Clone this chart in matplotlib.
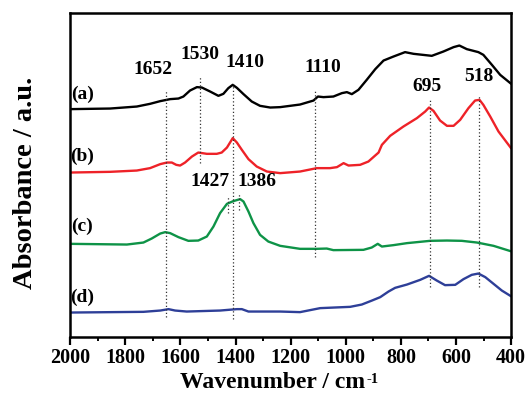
import matplotlib
matplotlib.use("Agg")
import matplotlib.pyplot as plt
from matplotlib.ticker import MultipleLocator, NullLocator

plt.rcParams['font.family'] = ['Liberation Serif', 'DejaVu Serif']
plt.rcParams['font.weight'] = 'bold'

# FTIR spectra, stacked (absorbance, arbitrary units)
wn_a = [2000, 1855, 1758, 1710, 1673, 1637, 1607, 1589, 1565, 1540, 1522, 1492, 1462,
        1444, 1426, 1410, 1395, 1371, 1341, 1311, 1274, 1238, 1166, 1117, 1101, 1081,
        1045, 1014, 996, 978, 954, 924, 893, 863, 827, 785, 754, 688, 646, 609, 588,
        561, 519, 501, 470, 440, 400]
abs_a = [2.277, 2.283, 2.303, 2.330, 2.357, 2.377, 2.383, 2.403, 2.463, 2.497, 2.493, 2.453, 2.410,
         2.430, 2.487, 2.520, 2.490, 2.427, 2.353, 2.310, 2.293, 2.297, 2.323, 2.363, 2.403, 2.397,
         2.403, 2.437, 2.447, 2.427, 2.470, 2.570, 2.677, 2.763, 2.803, 2.847, 2.830, 2.810, 2.853, 2.897, 2.913,
         2.877, 2.847, 2.820, 2.720, 2.620, 2.530]

wn_b = [2000, 1855, 1758, 1710, 1673, 1649, 1631, 1615, 1601, 1583, 1558, 1535, 1504,
        1468, 1450, 1431, 1410, 1395, 1377, 1353, 1323, 1286, 1238, 1166, 1105, 1057,
        1032, 1008, 990, 948, 918, 881, 869, 839, 791, 742, 712, 698, 682, 658, 633,
        609, 585, 555, 531, 515, 501, 476, 446, 400]
abs_b = [1.643, 1.650, 1.663, 1.687, 1.727, 1.743, 1.743, 1.720, 1.713, 1.743, 1.803, 1.843, 1.830,
         1.830, 1.843, 1.893, 1.987, 1.943, 1.870, 1.777, 1.703, 1.653, 1.637, 1.653, 1.687, 1.687,
         1.697, 1.737, 1.713, 1.720, 1.753, 1.843, 1.920, 2.010, 2.103, 2.187, 2.253, 2.293, 2.260, 2.163, 2.110,
         2.110, 2.170, 2.287, 2.363, 2.370, 2.320, 2.203, 2.053, 1.885]

wn_c = [2000, 1794, 1734, 1704, 1673, 1655, 1637, 1607, 1571, 1535, 1504, 1480, 1456,
        1431, 1408, 1383, 1371, 1353, 1335, 1311, 1281, 1238, 1166, 1105, 1069, 1045,
        936, 906, 884, 869, 827, 778, 694, 633, 579, 524, 464, 400]
abs_c = [0.930, 0.923, 0.943, 0.983, 1.033, 1.047, 1.037, 0.997, 0.960, 0.963, 1.003, 1.103, 1.237,
         1.330, 1.357, 1.377, 1.353, 1.253, 1.137, 1.020, 0.953, 0.910, 0.880, 0.880, 0.883, 0.867,
         0.870, 0.893, 0.930, 0.903, 0.917, 0.937, 0.960, 0.963, 0.960, 0.943, 0.910, 0.855]

wn_d = [2000, 1734, 1673, 1643, 1619, 1577, 1456, 1395, 1377, 1353, 1238, 1166, 1093,
        984, 942, 905, 875, 845, 821, 778, 730, 698, 670, 640, 603, 573, 543, 519,
        494, 464, 434, 400]
abs_d = [0.243, 0.250, 0.263, 0.277, 0.263, 0.253, 0.263, 0.277, 0.277, 0.253, 0.253, 0.247, 0.287,
         0.300, 0.323, 0.363, 0.397, 0.453, 0.490, 0.523, 0.570, 0.610, 0.563, 0.517, 0.520, 0.577, 0.620, 0.633,
         0.597, 0.530, 0.463, 0.405]

series = [
    ("(a)", wn_a, abs_a, "#000000", 2.42),
    ("(b)", wn_b, abs_b, "#ee2228", 1.80),
    ("(c)", wn_c, abs_c, "#0e9347", 1.10),
    ("(d)", wn_d, abs_d, "#2e3f98", 0.39),
]

# Assigned bands: wavenumber, guide line extent, label position
band_pos = [1652, 1530, 1410, 1427, 1386, 1110, 695, 518]
band_lo = [0.20, 1.74, 0.18, 1.24, 1.27, 0.80, 0.50, 0.50]
band_hi = [2.47, 2.60, 2.53, 1.41, 1.44, 2.48, 2.37, 2.42]
band_lx = [1699, 1528, 1365, 1492, 1323, 1082, 705, 516]
band_ly = [2.67, 2.82, 2.74, 1.55, 1.55, 2.69, 2.50, 2.60]

fig = plt.figure(figsize=(5.27, 4.01), dpi=100)
ax = fig.add_axes([0.133, 0.160, 0.837, 0.808])

for name, wn, ab, col, ly in series:
    ax.plot(wn, ab, color=col, lw=1.7, solid_joinstyle='round', solid_capstyle='round')
    ax.text(1956, ly, name, ha='center', va='center', fontsize=14, fontweight='bold')

for pos, lo, hi, lx, ly in zip(band_pos, band_lo, band_hi, band_lx, band_ly):
    ax.plot([pos, pos], [lo, hi], color='#333333', lw=0.9, ls=(0, (1, 1.8)))
    ax.text(lx, ly, str(pos), ha='center', va='center', fontsize=14, fontweight='bold')

ax.set_xlim(2000, 400)
ax.set_ylim(0, 3.24)
ax.xaxis.set_major_locator(MultipleLocator(200))
ax.xaxis.set_minor_locator(MultipleLocator(100))
ax.yaxis.set_major_locator(NullLocator())
ax.tick_params(axis='x', which='major', direction='out', length=5.5, width=1.6,
               labelsize=14.5, pad=2.5)
ax.tick_params(axis='x', which='minor', direction='out', length=3, width=1.4)
for lbl in ax.get_xticklabels():
    lbl.set_fontweight('bold')
for sp in ax.spines.values():
    sp.set_linewidth(1.8)

# x-axis title with a small raised exponent
xl = fig.text(0.517, 0.045, 'Wavenumber / cm', ha='center', va='center',
              fontsize=17, fontweight='bold')
renderer = fig.canvas.get_renderer()
bb = xl.get_window_extent(renderer)
sup_x, sup_y = fig.transFigure.inverted().transform((bb.x1 + 1, bb.y1 - 1))
fig.text(sup_x, sup_y, '-1', ha='left', va='top', fontsize=10.5, fontweight='bold')

fig.text(0.048, 0.545, 'Absorbance / a.u.', ha='center', va='center',
         rotation=90, fontsize=20.5, fontweight='bold')

fig.savefig('out.png', dpi=100)
